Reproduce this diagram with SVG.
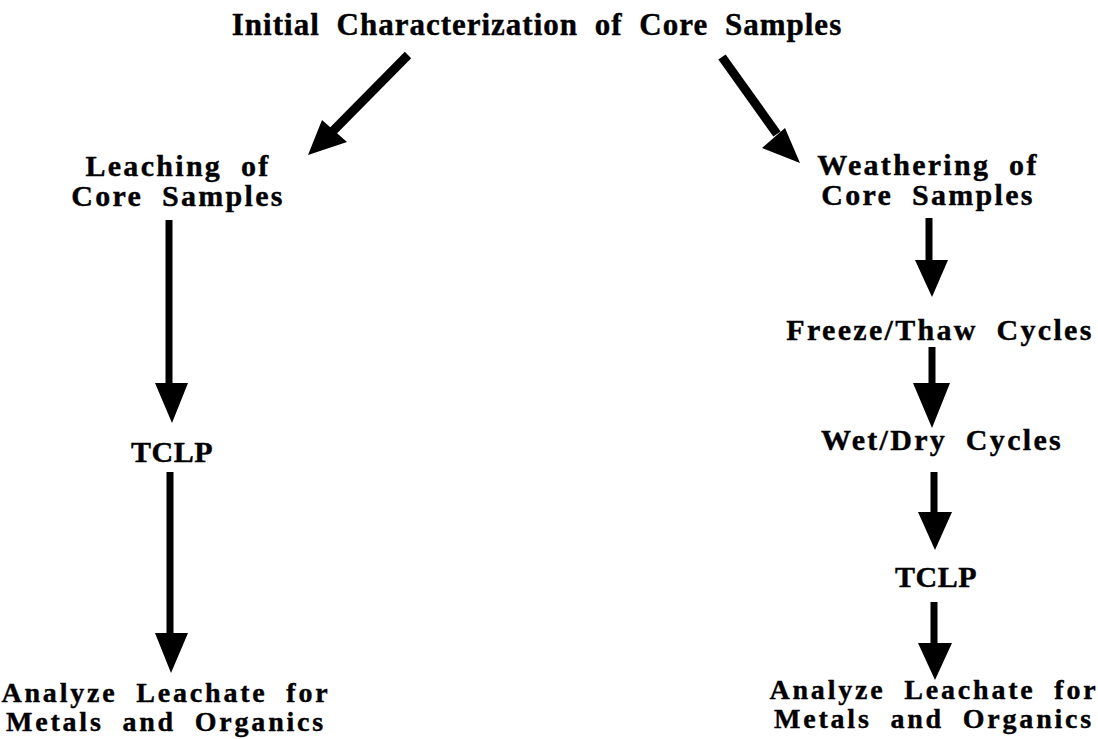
<svg xmlns="http://www.w3.org/2000/svg" width="1098" height="739" viewBox="0 0 1098 739">
<style>
.t{font-family:"Liberation Serif","Times New Roman",serif;font-weight:bold;fill:#000;stroke:#000;stroke-width:0.4;text-anchor:middle;font-size:30px;letter-spacing:2.3px;word-spacing:9px}
.title{font-size:31px;letter-spacing:1px;word-spacing:8px}
.sm{font-size:28px;letter-spacing:2.8px}
.tc{letter-spacing:0.5px}
.ln{stroke:#000;fill:none;stroke-width:7}
.dg{stroke-width:9}
.hd{fill:#000;stroke:none}
</style>
<rect width="1098" height="739" fill="#fff"/>
<g id="connectors">
<path class="ln dg" d="M408,55 L330,134"/>
<polygon class="hd" points="308,155 322,120 347,142"/>
<path class="ln dg" d="M722,57 L777,134"/>
<polygon class="hd" points="800,163 762,148 785,128"/>
<path class="ln" d="M169,220 V386"/>
<polygon class="hd" points="155,383 188,383 172,423"/>
<path class="ln" d="M170,472 V636"/>
<polygon class="hd" points="155,633 188,633 171,673"/>
<path class="ln" d="M929,218 V263"/>
<polygon class="hd" points="915,260 948,260 932,297"/>
<path class="ln" d="M932,347 V386"/>
<polygon class="hd" points="913,383 950,383 932,428"/>
<path class="ln" d="M934,472 V515"/>
<polygon class="hd" points="918,512 952,512 935,550"/>
<path class="ln" d="M934,602 V646"/>
<polygon class="hd" points="918,643 952,643 935,680"/>
</g>
<g id="n-title"><text class="t title" x="537" y="35">Initial Characterization of Core Samples</text></g>
<g id="n-leach"><text class="t" x="178" y="176">Leaching of</text><text class="t" x="178" y="206">Core Samples</text></g>
<g id="n-tclp1"><text class="t tc" x="172" y="462">TCLP</text></g>
<g id="n-analyze1"><text class="t sm" x="166" y="702">Analyze Leachate for</text><text class="t sm" x="166" y="731">Metals and Organics</text></g>
<g id="n-weather"><text class="t" x="928" y="175">Weathering of</text><text class="t" x="928" y="205">Core Samples</text></g>
<g id="n-freeze"><text class="t" x="940" y="340">Freeze/Thaw Cycles</text></g>
<g id="n-wetdry"><text class="t" x="942" y="450">Wet/Dry Cycles</text></g>
<g id="n-tclp2"><text class="t tc" x="936" y="587">TCLP</text></g>
<g id="n-analyze2"><text class="t sm" x="934" y="699">Analyze Leachate for</text><text class="t sm" x="934" y="728">Metals and Organics</text></g>
</svg>
